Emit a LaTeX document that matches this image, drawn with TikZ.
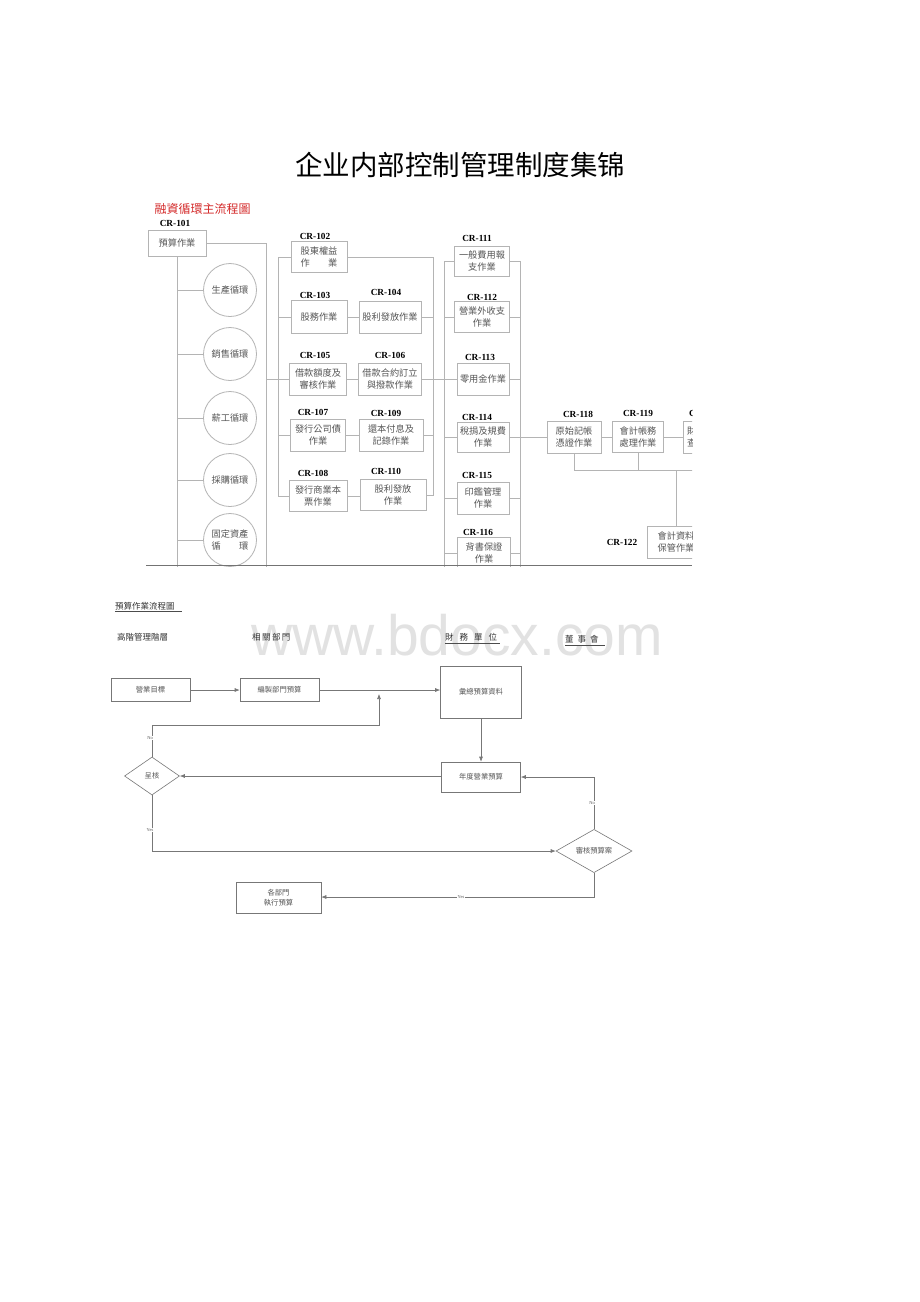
\documentclass[tikz,border=0pt]{standalone}
\usepackage{fontspec}
\setmainfont{Liberation Serif}
\newfontfamily\tcfont{Noto Sans CJK TC}
\newfontfamily\scfont{Noto Sans CJK SC}
\usetikzlibrary{shapes.geometric,arrows.meta}
\definecolor{lgray}{HTML}{B4B4B4}
\definecolor{tgray}{HTML}{555555}
\definecolor{dgray}{HTML}{777777}
\definecolor{wmark}{HTML}{E2E2E2}
\definecolor{redt}{HTML}{D42A2A}
\tikzset{
  bx/.style={draw=lgray, line width=0.8pt, fill=white, align=center, inner sep=1pt,
    text=tgray, font=\tcfont\fontsize{9.2}{12.5}\selectfont},
  cir/.style={circle, draw=lgray, line width=0.8pt, fill=white, minimum size=53pt, inner sep=0pt,
    align=center, text=tgray, font=\tcfont\fontsize{9.2}{12.5}\selectfont},
  cr/.style={font=\bfseries\fontsize{9.3}{10}\selectfont, text=black, inner sep=0pt},
  ln/.style={draw=lgray, line width=0.8pt},
  fb/.style={draw=dgray, line width=0.6pt, fill=white, align=center, inner sep=1pt,
    text=tgray, font=\tcfont\fontsize{7.3}{10}\selectfont},
  fd/.style={diamond, draw=dgray, line width=0.6pt, fill=white, align=center, inner sep=0pt,
    text=tgray, font=\tcfont\fontsize{7.3}{10}\selectfont},
  fl/.style={draw=dgray, line width=0.6pt},
  fa/.style={draw=dgray, line width=0.6pt, -{Latex[length=5pt,width=4pt]}, color=dgray},
  yn/.style={font=\fontsize{4.5}{5}\selectfont, text=tgray, inner sep=0.5pt},
  hd/.style={font=\tcfont\fontsize{8.5}{10}\selectfont, text=black!80, inner sep=0pt}
}
\begin{document}
\begin{tikzpicture}[x=1pt,y=-1pt]
\useasboundingbox (0,0) rectangle (920,1302);
\fill[white] (0,0) rectangle (920,1302);

% main title
\node[font=\scfont\fontsize{27.5}{30}\selectfont, text=black] (title) at (460,165) {企业内部控制管理制度集锦};

% ================= top diagram =================
\begin{scope}
\clip (140,190) rectangle (692,566);
\node[font=\tcfont\fontsize{12}{13}\selectfont, text=redt, anchor=west] (rt) at (151,209) {融資循環主流程圖};

\node[cr] (l101) at (175,223) {CR-101};
\node[bx, minimum width=58pt, minimum height=26pt] (b101) at (177,243) {預算作業};

% circles
\node[cir] (c1) at (230,290) {生產循環};
\node[cir] (c2) at (230,354) {銷售循環};
\node[cir] (c3) at (230,418) {薪工循環};
\node[cir] (c4) at (230,480) {採購循環};
\node[cir] (c5) at (230,540) {固定資產\\循\hspace{2em}環};

\coordinate (v1b) at (177,570);
\draw[ln] (b101.south) -- (v1b);
\foreach \c in {c1,c2,c3,c4,c5} { \draw[ln] (b101.south |- \c.west) -- (\c.west); }

\coordinate (t1) at (266,243);
\coordinate (t1b) at (266,570);
\draw[ln] (b101.east) -- (t1) -- (t1b);

% column A / B boxes
\node[bx, minimum width=56pt, minimum height=31pt] (b102) at (319,257) {股東權益\\作\hspace{2em}業};
\node[bx, minimum width=56pt, minimum height=33pt] (b103) at (319,317) {股務作業};
\node[bx, minimum width=62pt, minimum height=32pt] (b104) at (390,317) {股利發放作業};
\node[bx, minimum width=57pt, minimum height=32pt] (b105) at (318,379) {借款額度及\\審核作業};
\node[bx, minimum width=63pt, minimum height=32pt] (b106) at (390,379) {借款合約訂立\\與撥款作業};
\node[bx, minimum width=55pt, minimum height=32pt] (b107) at (318,435) {發行公司債\\作業};
\node[bx, minimum width=64pt, minimum height=32pt] (b109) at (391,435) {還本付息及\\記錄作業};
\node[bx, minimum width=58pt, minimum height=31pt] (b108) at (318,496) {發行商業本\\票作業};
\node[bx, minimum width=66pt, minimum height=31pt] (b110) at (393,495) {股利發放\\作業};

\node[cr] (l102) at (315,236) {CR-102};
\node[cr] (l103) at (315,295) {CR-103};
\node[cr] (l104) at (386,292) {CR-104};
\node[cr] (l105) at (315,355) {CR-105};
\node[cr] (l106) at (390,355) {CR-106};
\node[cr] (l107) at (313,412) {CR-107};
\node[cr] (l109) at (386,413) {CR-109};
\node[cr] (l108) at (313,473) {CR-108};
\node[cr] (l110) at (386,471) {CR-110};

% left bracket A
\coordinate (ba1) at (278,257);
\coordinate (ba2) at (278,496);
\coordinate (ba3) at (278,379);
\draw[ln] (ba1) -- (ba2);
\draw[ln] (t1 |- ba3) -- (ba3);
\foreach \b in {b102,b103,b105,b107,b108} { \draw[ln] (ba1 |- \b.west) -- (\b.west); }
% A-B links
\draw[ln] (b103.east) -- (b104.west);
\draw[ln] (b105.east) -- (b106.west);
\draw[ln] (b107.east) -- (b109.west);
\draw[ln] (b108.east) -- (b110.west |- b108.east);
% right bracket B
\coordinate (bb1) at (433,257);
\coordinate (bb2) at (433,496);
\draw[ln] (bb1) -- (bb2);
\draw[ln] (b102.east) -- (bb1);
\foreach \b in {b104,b106,b109,b110} { \draw[ln] (\b.east) -- (bb1 |- \b.east); }

% column C
\node[bx, minimum width=55pt, minimum height=30pt] (b111) at (482,261) {一般費用報\\支作業};
\node[bx, minimum width=55pt, minimum height=31pt] (b112) at (482,317) {營業外收支\\作業};
\node[bx, minimum width=52pt, minimum height=32pt] (b113) at (483,379) {零用金作業};
\node[bx, minimum width=52pt, minimum height=30pt] (b114) at (483,437) {稅捐及規費\\作業};
\node[bx, minimum width=52pt, minimum height=32pt] (b115) at (483,498) {印鑑管理\\作業};
\node[bx, minimum width=53pt, minimum height=32pt] (b116) at (484,553) {背書保證\\作業};
\node[cr] (l111) at (477,238) {CR-111};
\node[cr] (l112) at (482,297) {CR-112};
\node[cr] (l113) at (480,357) {CR-113};
\node[cr] (l114) at (477,417) {CR-114};
\node[cr] (l115) at (477,475) {CR-115};
\node[cr] (l116) at (478,532) {CR-116};

\coordinate (bc1) at (444,261);
\coordinate (bc2) at (444,570);
\coordinate (bd1) at (520,261);
\coordinate (bd2) at (520,570);
\draw[ln] (bc1) -- (bc2);
\draw[ln] (bd1) -- (bd2);
\draw[ln] (bb1 |- b113.west) -- (bc1 |- b113.west);
\foreach \b in {b111,b112,b113,b114,b115,b116} {
  \draw[ln] (bc1 |- \b.west) -- (\b.west);
  \draw[ln] (\b.east) -- (bd1 |- \b.east);
}

% column D
\node[bx, minimum width=54pt, minimum height=32pt] (b118) at (574,437) {原始記帳\\憑證作業};
\node[bx, minimum width=51pt, minimum height=31pt] (b119) at (638,437) {會計帳務\\處理作業};
\node[bx, minimum width=56pt, minimum height=32pt, text width=48pt, align=left] (b120) at (711,437) {財務報表\\查核作業};
\node[bx, minimum width=58pt, minimum height=32pt] (b122) at (676,542) {會計資料\\保管作業};
\node[cr] (l118) at (578,414) {CR-118};
\node[cr] (l119) at (638,413) {CR-119};
\node[cr, anchor=west] (l120) at (689,413) {CR-120};
\node[cr] (l122) at (622,542) {CR-122};

\draw[ln] (bd1 |- b118.west) -- (b118.west);
\draw[ln] (b118.east) -- (b119.west);
\draw[ln] (b119.east) -- (b120.west);
\coordinate (h1) at (574,470);
\coordinate (h2) at (700,470);
\coordinate (h3) at (676,470);
\draw[ln] (b118.south) -- (h1) -- (h2);
\draw[ln] (b119.south) -- (b119.south |- h1);
\draw[ln] (h3) -- (b122.north);
\end{scope}
\coordinate (bl1) at (146,565);
\coordinate (bl2) at (692,565);
\draw[draw=black!55, line width=1pt] (bl1) -- (bl2);

% ================= bottom diagram =================
\node[font=\fontsize{57}{60}\selectfont\sffamily, text=wmark, anchor=base] (wm) at (457,655) {\fontspec{Liberation Sans}www.bdocx.com};

\node[hd, anchor=west] (h0) at (115,606) {預算作業流程圖};
\draw[black!70, line width=0.5pt] (h0.south west) ++(0,1.5) -- ++(67,0);
\node[hd, anchor=west] (h1t) at (117,637) {高階管理階層};
\node[hd, anchor=west] (h2t) at (252,637) {相\,關\,部\,門};
\node[hd, anchor=west] (h3t) at (445,637) {財\hspace{6pt}務\hspace{6pt}單\hspace{6pt}位};
\draw[black!70, line width=0.5pt] (445,643) -- (500,643);
\node[hd, anchor=west] (h4t) at (565,639) {董\hspace{4pt}事\hspace{4pt}會};
\draw[black!70, line width=0.5pt] (565,645) -- (605,645);

\node[fb, minimum width=79pt, minimum height=23pt] (n1) at (150.5,690) {營業目標};
\node[fb, minimum width=79pt, minimum height=23pt] (n2) at (279.5,690) {編製部門預算};
\node[fb, minimum width=81pt, minimum height=52pt] (n3) at (481,692) {彙總預算資料};
\node[fb, minimum width=79pt, minimum height=30pt] (n4) at (481,777) {年度營業預算};
\node[fd, minimum width=55pt, minimum height=38pt] (d1) at (152,776) {呈核};
\node[fd, minimum width=76pt, minimum height=41pt] (d2) at (594,851) {審核預算案};
\node[fb, minimum width=85pt, minimum height=31pt] (n5) at (278.5,897.5) {各部門\\執行預算};

\draw[fa] (n1.east) -- (n2.west);
\draw[fa] (n2.east) -- (n3.west |- n2.east);
\coordinate (k1) at (152,725);
\coordinate (k2) at (379,725);
\coordinate (k3) at (379,694);
\draw[fa] (d1.north) -- (k1) -- (k2) -- (k3);
\node[yn, fill=white] (no1) at (150,738) {No};
\draw[fa] (n3.south) -- (n4.north);
\draw[fa] (n4.west |- d1.east) -- (d1.east);
\coordinate (k4) at (594,777);
\draw[fa] (d2.north) -- (k4) -- (n4.east |- k4);
\node[yn, fill=white] (no2) at (592,803) {No};
\coordinate (k5) at (152,851);
\draw[fa] (d1.south) -- (k5) -- (d2.west);
\node[yn, fill=white] (ye1) at (150,830) {Yes};
\coordinate (k6) at (594,897);
\draw[fa] (d2.south) -- (k6) -- (n5.east |- k6);
\node[yn, fill=white] (ye2) at (461,897) {Yes};
\end{tikzpicture}
\end{document}
